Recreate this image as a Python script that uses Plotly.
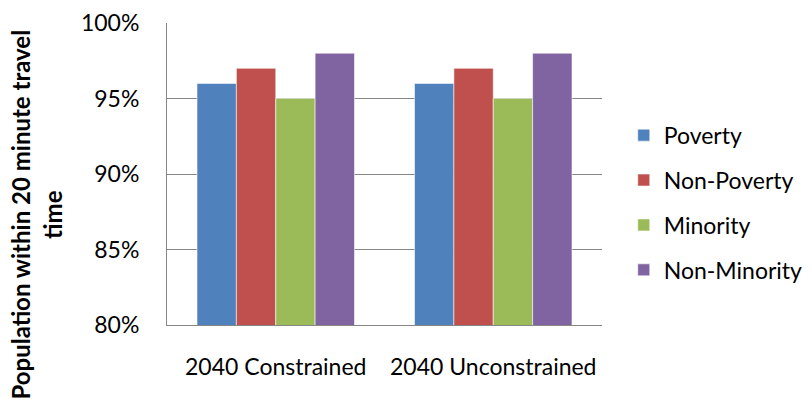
import plotly.graph_objects as go

categories = ["2040 Constrained", "2040 Unconstrained"]
series_names = ["Poverty", "Non-Poverty", "Minority", "Non-Minority"]
poverty = [0.96, 0.96]
non_poverty = [0.97, 0.97]
minority = [0.95, 0.95]
non_minority = [0.98, 0.98]
tick_vals = [0.80, 0.85, 0.90, 0.95, 1.00]
tick_text = ["80%", "85%", "90%", "95%", "100%"]
y_title = "Population within 20 minute travel<br>time"

colors = ["#4F81BD", "#C0504D", "#9BBB59", "#8064A2"]
values = [poverty, non_poverty, minority, non_minority]

FONT = "Lato, Open Sans, sans-serif"

fig = go.Figure()
for i, (name, vals) in enumerate(zip(series_names, values)):
    fig.add_trace(go.Bar(
        x=categories, y=vals, name=name,
        marker=dict(color=colors[i], line=dict(color="rgba(255,255,255,0.55)", width=1)),
        legendgroup=name,
    ))

fig.update_layout(
    width=812, height=404,
    margin=dict(l=167, r=210, t=23, b=79, autoexpand=False),
    paper_bgcolor="white", plot_bgcolor="white",
    barmode="group", bargap=0.276, bargroupgap=0,
    font=dict(family=FONT, color="#000000", size=23),
    legend=dict(
        x=1.05, xanchor="left", y=0.405, yanchor="middle",
        font=dict(family=FONT, size=23, color="#000000"),
        traceorder="grouped", tracegroupgap=12,
        bgcolor="rgba(0,0,0,0)",
    ),
    xaxis=dict(
        showline=True, linecolor="#868686", linewidth=1,
        ticks="", tickfont=dict(size=23, family=FONT),
        showgrid=False, automargin=False, ticklabelstandoff=21,
    ),
    yaxis=dict(
        range=[0.80, 1.00], tickvals=tick_vals, ticktext=tick_text,
        showgrid=True, gridcolor="#868686", gridwidth=1,
        showline=True, linecolor="#868686", linewidth=1,
        ticks="", tickfont=dict(size=23, family=FONT),
        zeroline=False, ticklabelstandoff=22, automargin=False,
    ),
    annotations=[dict(
        text="<b>" + y_title + "</b>",
        xref="paper", yref="paper",
        x=-0.3, y=0.364, xanchor="center", yanchor="middle",
        textangle=-90, showarrow=False,
        font=dict(family=FONT, size=24, color="#000000"),
    )],
)

fig.write_html(
    "out.html",
    config={"displayModeBar": False},
    post_script="document.body.style.margin='0';document.body.style.overflow='hidden';",
)
